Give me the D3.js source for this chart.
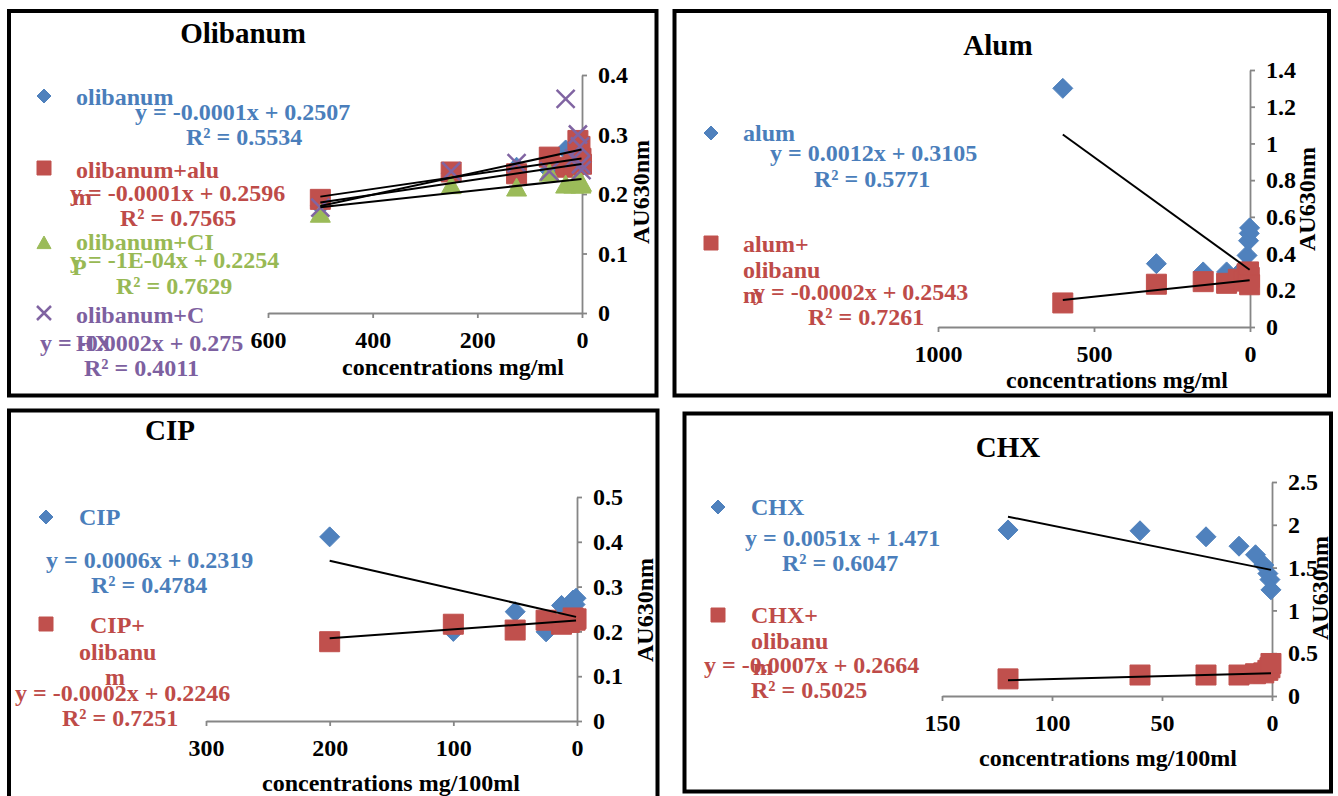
<!DOCTYPE html>
<html>
<head>
<meta charset="utf-8">
<script src="https://cdnjs.cloudflare.com/ajax/libs/d3/7.8.5/d3.min.js"></script>
<style>
body { margin: 0; background: #fff; }
svg text { font-family: "Liberation Serif", "Times New Roman", serif; font-weight: bold; }
</style>
</head>
<body>
<div id="wrapper"></div>
<script>
// Olibanum panel
const olibanumX = [500, 250, 125, 62.5, 31.25, 15.625, 7.8125, 3.906, 1.953, 0.977]
const olibanumY = [0.18, 0.235, 0.245, 0.24, 0.274, 0.265, 0.25, 0.245, 0.26, 0.255]
const olibanumAlumY = [0.191, 0.237, 0.234, 0.262, 0.245, 0.25, 0.29, 0.28, 0.26, 0.25]
const olibanumCipY = [0.166, 0.214, 0.21, 0.235, 0.215, 0.215, 0.22, 0.22, 0.215, 0.218]
const olibanumChxY = [0.177, 0.238, 0.252, 0.238, 0.36, 0.26, 0.3, 0.28, 0.25, 0.24]
const olibanumSlopes = [-0.00013, -0.000128, -0.000095, -0.00019]
const olibanumIntercepts = [0.2507, 0.2596, 0.2254, 0.275]
const olibanumXTicks = [600, 400, 200, 0]
const olibanumYTicks = [0, 0.1, 0.2, 0.3, 0.4]

// Alum panel
const alumX = [600, 300, 150, 75, 37.5, 18.75, 9.375, 4.6875, 2.344, 1.172]
const alumY = [1.3, 0.345, 0.3, 0.3, 0.29, 0.31, 0.39, 0.47, 0.51, 0.54]
const alumOliY = [0.131, 0.233, 0.247, 0.238, 0.26, 0.25, 0.29, 0.3, 0.27, 0.23]
const alumSlopes = [0.00123, -0.000178]
const alumIntercepts = [0.3105, 0.2543]
const alumXTicks = [1000, 500, 0]
const alumYTicks = [0, 0.2, 0.4, 0.6, 0.8, 1, 1.2, 1.4]

// CIP panel
const cipX = [200, 100, 50, 25, 12.5, 6.25, 3.125, 1.5625, 0.781]
const cipY = [0.411, 0.2, 0.244, 0.199, 0.258, 0.25, 0.27, 0.26, 0.274]
const cipOliY = [0.177, 0.216, 0.203, 0.225, 0.216, 0.22, 0.23, 0.225, 0.228]
const cipSlopes = [0.00063, -0.0002]
const cipIntercepts = [0.2319, 0.2246]
const cipXTicks = [300, 200, 100, 0]
const cipYTicks = [0, 0.1, 0.2, 0.3, 0.4, 0.5]

// CHX panel
const chxX = [120, 60, 30, 15, 7.5, 3.75, 1.875, 0.9375, 0.469]
const chxY = [1.94, 1.93, 1.86, 1.75, 1.65, 1.53, 1.43, 1.36, 1.24]
const chxOliY = [0.2, 0.245, 0.245, 0.245, 0.26, 0.27, 0.3, 0.33, 0.38]
const chxSlopes = [0.0052, -0.00068]
const chxIntercepts = [1.471, 0.2664]
const chxXTicks = [150, 100, 50, 0]
const chxYTicks = [0, 0.5, 1, 1.5, 2, 2.5]

const BLUE = "#4F81BD", RED = "#C0504D", GREEN = "#9BBB59", PURPLE = "#8064A2"
const TBLUE = "#4A7EBB", TRED = "#BE4B48", TGREEN = "#98B954", TPURPLE = "#7D60A0"

const panels = [
    {
        box: [9, 11, 647.5, 384.5],
        title: ["Olibanum", 243, 43],
        xDomain: [600, 0], xRange: [268, 582], yDomain: [0, 0.4], yRange: [313, 75],
        xTicks: olibanumXTicks, yTicks: olibanumYTicks,
        xTitle: ["concentrations mg/ml", 453, 375], yTitle: [641, 192],
        series: [
            { x: olibanumX, y: olibanumY, slope: olibanumSlopes[0], intercept: olibanumIntercepts[0], shape: "diamond", color: BLUE, text: TBLUE,
              marker: [44, 96], labels: [["olibanum", 76, 105], ["y = -0.0001x + 0.2507", 135, 120], ["R² = 0.5534", 186, 145]] },
            { x: olibanumX, y: olibanumAlumY, slope: olibanumSlopes[1], intercept: olibanumIntercepts[1], shape: "square", color: RED, text: TRED,
              marker: [44, 168], labels: [["olibanum+alu", 76, 178], ["m", 72, 205], ["y = -0.0001x + 0.2596", 70, 201], ["R² = 0.7565", 120, 226]] },
            { x: olibanumX, y: olibanumCipY, slope: olibanumSlopes[2], intercept: olibanumIntercepts[2], shape: "triangle", color: GREEN, text: TGREEN,
              marker: [44, 243], labels: [["olibanum+CI", 76, 250], ["P", 72, 275], ["y = -1E-04x + 0.2254", 70, 268], ["R² = 0.7629", 116, 294]] },
            { x: olibanumX, y: olibanumChxY, slope: olibanumSlopes[3], intercept: olibanumIntercepts[3], shape: "x", color: PURPLE, text: TPURPLE,
              marker: [44, 313], labels: [["olibanum+C", 76, 323], ["HX", 76, 351], ["y = -0.0002x + 0.275", 40, 351], ["R² = 0.4011", 84, 376]] }
        ]
    },
    {
        box: [674.5, 11, 654.5, 384.5],
        title: ["Alum", 998, 55],
        xDomain: [1000, 0], xRange: [938, 1250], yDomain: [0, 1.4], yRange: [327, 70],
        xTicks: alumXTicks, yTicks: alumYTicks,
        xTitle: ["concentrations mg/ml", 1117, 388], yTitle: [1307, 199],
        series: [
            { x: alumX, y: alumY, slope: alumSlopes[0], intercept: alumIntercepts[0], shape: "diamond", color: BLUE, text: TBLUE,
              marker: [711, 133], labels: [["alum", 743, 141], ["y = 0.0012x + 0.3105", 770, 161], ["R² = 0.5771", 814, 187]] },
            { x: alumX, y: alumOliY, slope: alumSlopes[1], intercept: alumIntercepts[1], shape: "square", color: RED, text: TRED,
              marker: [711, 243], labels: [["alum+", 743, 252], ["olibanu", 743, 278], ["m", 743, 303], ["y = -0.0002x + 0.2543", 753, 300], ["R² = 0.7261", 808, 325]] }
        ]
    },
    {
        box: [9, 410.5, 648.5, 400],
        title: ["CIP", 170, 440],
        xDomain: [300, 0], xRange: [206, 577], yDomain: [0, 0.5], yRange: [721, 497],
        xTicks: cipXTicks, yTicks: cipYTicks,
        xTitle: ["concentrations mg/100ml", 391, 791], yTitle: [645, 610],
        series: [
            { x: cipX, y: cipY, slope: cipSlopes[0], intercept: cipIntercepts[0], shape: "diamond", color: BLUE, text: TBLUE,
              marker: [46, 517], labels: [["CIP", 79, 525], ["y = 0.0006x + 0.2319", 46, 568], ["R² = 0.4784", 91, 593]] },
            { x: cipX, y: cipOliY, slope: cipSlopes[1], intercept: cipIntercepts[1], shape: "square", color: RED, text: TRED,
              marker: [46, 624], labels: [["CIP+", 90, 633], ["olibanu", 79, 660], ["m", 105, 685], ["y = -0.0002x + 0.2246", 15, 701], ["R² = 0.7251", 62, 726]] }
        ]
    },
    {
        box: [684.5, 413.5, 646.5, 378],
        title: ["CHX", 1008, 457],
        xDomain: [150, 0], xRange: [942, 1272], yDomain: [0, 2.5], yRange: [696, 482],
        xTicks: chxXTicks, yTicks: chxYTicks,
        xTitle: ["concentrations mg/100ml", 1108, 766], yTitle: [1320, 588],
        series: [
            { x: chxX, y: chxY, slope: chxSlopes[0], intercept: chxIntercepts[0], shape: "diamond", color: BLUE, text: TBLUE,
              marker: [718, 507], labels: [["CHX", 751, 515], ["y = 0.0051x + 1.471", 745, 546], ["R² = 0.6047", 782, 571]] },
            { x: chxX, y: chxOliY, slope: chxSlopes[1], intercept: chxIntercepts[1], shape: "square", color: RED, text: TRED,
              marker: [718, 615], labels: [["CHX+", 751, 623], ["olibanu", 751, 649], ["m", 753, 675], ["y = -0.0007x + 0.2664", 704, 673], ["R² = 0.5025", 751, 698]] }
        ]
    }
]

let svg = d3.select("#wrapper")
    .append("svg")
    .attr("width", 1338)
    .attr("height", 796)

// marker shapes, r = half size
function markerPath(shape, r) {
    if (shape === "diamond") return `M0,${-r}L${r},0L0,${r}L${-r},0Z`
    if (shape === "square") return `M${-r},${-r}H${r}V${r}H${-r}Z`
    if (shape === "triangle") return `M0,${-r}L${r},${r * 0.8}L${-r},${r * 0.8}Z`
    return `M${-r},${-r}L${r},${r}M${-r},${r}L${r},${-r}`
}

function drawMarker(g, shape, color, cx, cy, r) {
    let p = g.append("path")
        .attr("transform", `translate(${cx},${cy})`)
        .attr("d", markerPath(shape, r))
    if (shape === "x") {
        p.attr("fill", "none").attr("stroke", color).attr("stroke-width", 2.5)
    } else {
        p.attr("fill", color).attr("stroke", color).attr("stroke-width", 1)
    }
}

function drawPanel(cfg) {
    let g = svg.append("g")

    // frame
    g.append("rect")
        .attr("x", cfg.box[0]).attr("y", cfg.box[1])
        .attr("width", cfg.box[2]).attr("height", cfg.box[3])
        .attr("fill", "white").attr("stroke", "black").attr("stroke-width", 4)

    let x = d3.scaleLinear().domain(cfg.xDomain).range(cfg.xRange)
    let y = d3.scaleLinear().domain(cfg.yDomain).range(cfg.yRange)

    // x axis
    let xAxis = g.append("g")
        .attr("transform", `translate(0,${cfg.yRange[0]})`)
        .call(d3.axisBottom(x).tickValues(cfg.xTicks).tickSize(5).tickSizeOuter(0).tickPadding(13).tickFormat(d => String(d)))
    // y axis on the right (x = 0)
    let yAxis = g.append("g")
        .attr("transform", `translate(${cfg.xRange[1]},0)`)
        .call(d3.axisRight(y).tickValues(cfg.yTicks).tickSize(5).tickSizeOuter(0).tickPadding(11).tickFormat(d => String(d)))

    for (let a of [xAxis, yAxis]) {
        a.select(".domain").attr("stroke", "#868686").attr("stroke-width", 1.8)
        a.selectAll(".tick line").attr("stroke", "#868686").attr("stroke-width", 1.8)
        a.selectAll(".tick text")
            .attr("fill", "black")
            .style("font-size", "24px")
            .style("font-family", "'Liberation Serif', serif")
            .style("font-weight", "bold")
    }

    // points
    cfg.series.forEach(s => {
        let pts = s.x.map((v, i) => [v, s.y[i]])
        let pg = g.append("g")
        pts.forEach(p => drawMarker(pg, s.shape, s.color, x(p[0]), y(p[1]), s.shape === "x" ? 9 : 10))
    })

    // trend lines on top
    cfg.series.forEach(s => {
        let x0 = d3.min(s.x), x1 = d3.max(s.x)
        g.append("line")
            .attr("x1", x(x1)).attr("y1", y(s.slope * x1 + s.intercept))
            .attr("x2", x(x0)).attr("y2", y(s.slope * x0 + s.intercept))
            .attr("stroke", "black")
            .attr("stroke-width", 2)
    })

    // legend and equations
    cfg.series.forEach(s => {
        drawMarker(g, s.shape, s.color, s.marker[0], s.marker[1], 7)
        s.labels.forEach(l => {
            g.append("text")
                .attr("x", l[1]).attr("y", l[2])
                .attr("fill", s.text)
                .style("font-size", "24px")
                .text(l[0])
        })
    })

    // titles
    g.append("text")
        .attr("x", cfg.title[1]).attr("y", cfg.title[2])
        .attr("text-anchor", "middle")
        .style("font-size", "29px")
        .text(cfg.title[0])

    g.append("text")
        .attr("x", cfg.xTitle[1]).attr("y", cfg.xTitle[2])
        .attr("text-anchor", "middle")
        .style("font-size", "24px")
        .text(cfg.xTitle[0])

    g.append("text")
        .attr("transform", `translate(${cfg.yTitle[0]},${cfg.yTitle[1]}) rotate(-90)`)
        .attr("text-anchor", "middle")
        .attr("dy", "0.35em")
        .style("font-size", "24px")
        .text("AU630nm")
}

panels.forEach(drawPanel)
</script>
</body>
</html>
